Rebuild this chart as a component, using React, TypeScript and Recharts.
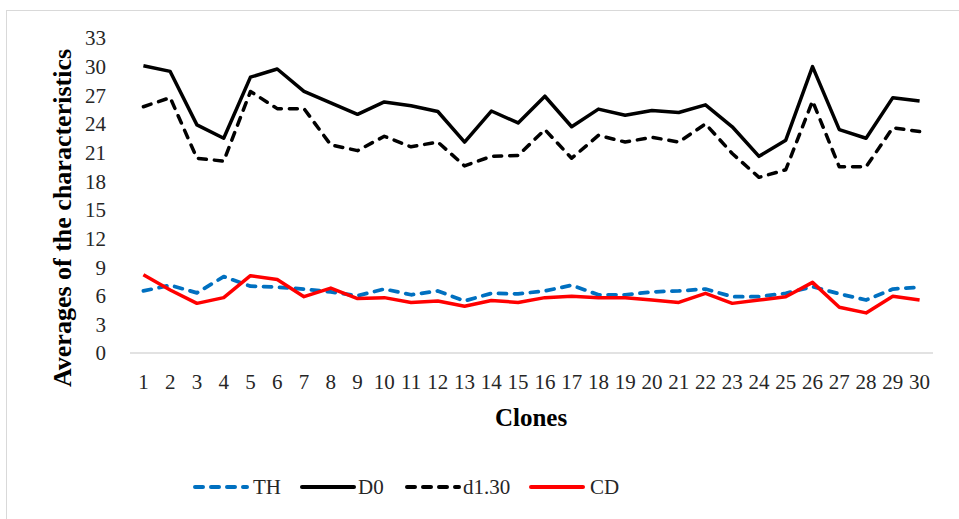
import { LineChart, Line, XAxis, YAxis, Legend } from 'recharts';

const clones = ['1', '2', '3', '4', '5', '6', '7', '8', '9', '10', '11', '12', '13', '14', '15', '16', '17', '18', '19', '20', '21', '22', '23', '24', '25', '26', '27', '28', '29', '30'];
const th = [6.5, 7.1, 6.3, 8.0, 7.0, 6.9, 6.7, 6.4, 6.0, 6.7, 6.1, 6.5, 5.45, 6.25, 6.2, 6.5, 7.1, 6.1, 6.1, 6.4, 6.5, 6.7, 5.9, 5.9, 6.25, 6.95, 6.2, 5.55, 6.7, 6.9];
const d0 = [30.1, 29.5, 23.9, 22.5, 28.9, 29.75, 27.4, 26.2, 25.0, 26.3, 25.9, 25.3, 22.1, 25.35, 24.1, 26.9, 23.7, 25.55, 24.9, 25.4, 25.2, 26.0, 23.7, 20.6, 22.3, 30.0, 23.4, 22.5, 26.75, 26.4];
const d130 = [25.8, 26.75, 20.4, 20.1, 27.4, 25.6, 25.6, 21.8, 21.2, 22.7, 21.6, 22.1, 19.6, 20.6, 20.7, 23.4, 20.4, 22.8, 22.1, 22.6, 22.1, 24.0, 20.9, 18.4, 19.2, 26.4, 19.5, 19.5, 23.6, 23.2];
const cd = [8.2, 6.6, 5.2, 5.8, 8.1, 7.7, 5.9, 6.8, 5.7, 5.8, 5.3, 5.45, 4.9, 5.5, 5.3, 5.8, 5.95, 5.8, 5.8, 5.55, 5.3, 6.25, 5.2, 5.55, 5.9, 7.4, 4.8, 4.2, 5.95, 5.55];
const yTicks = [0, 3, 6, 9, 12, 15, 18, 21, 24, 27, 30, 33];

const chartData = clones.map((c, i) => ({ clone: c, TH: th[i], D0: d0[i], d130: d130[i], CD: cd[i] }));

const FONT = "'Liberation Serif', Tinos, 'Times New Roman', serif";
const tickStyle = { fontFamily: FONT, fontSize: 21, fill: '#262626' };

const legendItems = [
  { name: 'TH', color: '#0070C0', dash: '8 8', lineX: 193, textX: 253 },
  { name: 'D0', color: '#000000', dash: undefined, lineX: 300, textX: 358 },
  { name: 'd1.30', color: '#000000', dash: '8 8', lineX: 405, textX: 463 },
  { name: 'CD', color: '#FF0000', dash: undefined, lineX: 529, textX: 590 },
];

const renderLegend = () => (
  <svg width={959} height={30} style={{ display: 'block' }}>
    {legendItems.map((it) => (
      <g key={it.name}>
        <line
          x1={it.lineX + 2}
          x2={it.lineX + 54}
          y1={15}
          y2={15}
          stroke={it.color}
          strokeWidth={4}
          strokeLinecap="round"
          strokeDasharray={it.dash}
        />
        <text x={it.textX} y={15} dy="0.35em" style={{ fontFamily: FONT, fontSize: 21 }} fill="#262626">
          {it.name}
        </text>
      </g>
    ))}
  </svg>
);

const YTitle = () => (
  <text
    x={62}
    y={218}
    transform="rotate(-90 62 218)"
    textAnchor="middle"
    dominantBaseline="central"
    style={{ fontFamily: FONT, fontWeight: 'bold', fontSize: 26 }}
    fill="#000"
  >
    Averages of the characteristics
  </text>
);

const XTitle = () => (
  <text x={531} y={417} textAnchor="middle" dominantBaseline="central" style={{ fontFamily: FONT, fontWeight: 'bold', fontSize: 25 }} fill="#000">
    Clones
  </text>
);

const App = () => {
  return (
    <div style={{ position: 'absolute', left: 0, top: 0, width: 959, height: 519, overflow: 'hidden', background: '#fff', fontFamily: FONT }}>
      <div style={{ position: 'absolute', left: 6, top: 10, width: 1000, height: 600, border: '1px solid #d9d9d9' }} />
      <div style={{ position: 'absolute', left: 0, top: 0 }}>
        <LineChart width={959} height={519} data={chartData} margin={{ top: 38, right: 26, bottom: 106, left: 0 }}>
          <XAxis
            dataKey="clone"
            interval={0}
            height={60}
            padding={{ left: 13.4, right: 13.4 }}
            tickLine={false}
            tickSize={0}
            tickMargin={21}
            axisLine={{ stroke: '#d9d9d9', strokeWidth: 1.5 }}
            tick={tickStyle}
            label={{ content: () => <XTitle /> }}
          />
          <YAxis
            width={130}
            domain={[0, 33]}
            ticks={yTicks}
            interval={0}
            axisLine={false}
            tickLine={false}
            tickSize={0}
            tickMargin={24}
            tick={tickStyle}
            label={{ content: () => <YTitle /> }}
          />
          <Legend
            verticalAlign="middle"
            align="center"
            layout="horizontal"
            content={renderLegend}
            wrapperStyle={{ top: 472, left: 0, width: 959, height: 30 }}
          />
          <Line dataKey="TH" name="TH" stroke="#0070C0" strokeWidth={3.75} strokeDasharray="8 8" strokeLinecap="round" strokeLinejoin="round" dot={false} isAnimationActive={false} />
          <Line dataKey="D0" name="D0" stroke="#000000" strokeWidth={3.5} strokeLinejoin="round" dot={false} isAnimationActive={false} />
          <Line dataKey="d130" name="d1.30" stroke="#000000" strokeWidth={3.5} strokeDasharray="8 8" strokeLinecap="round" strokeLinejoin="round" dot={false} isAnimationActive={false} />
          <Line dataKey="CD" name="CD" stroke="#FF0000" strokeWidth={3.5} strokeLinejoin="round" dot={false} isAnimationActive={false} />
        </LineChart>
      </div>
    </div>
  );
};

export default App;
